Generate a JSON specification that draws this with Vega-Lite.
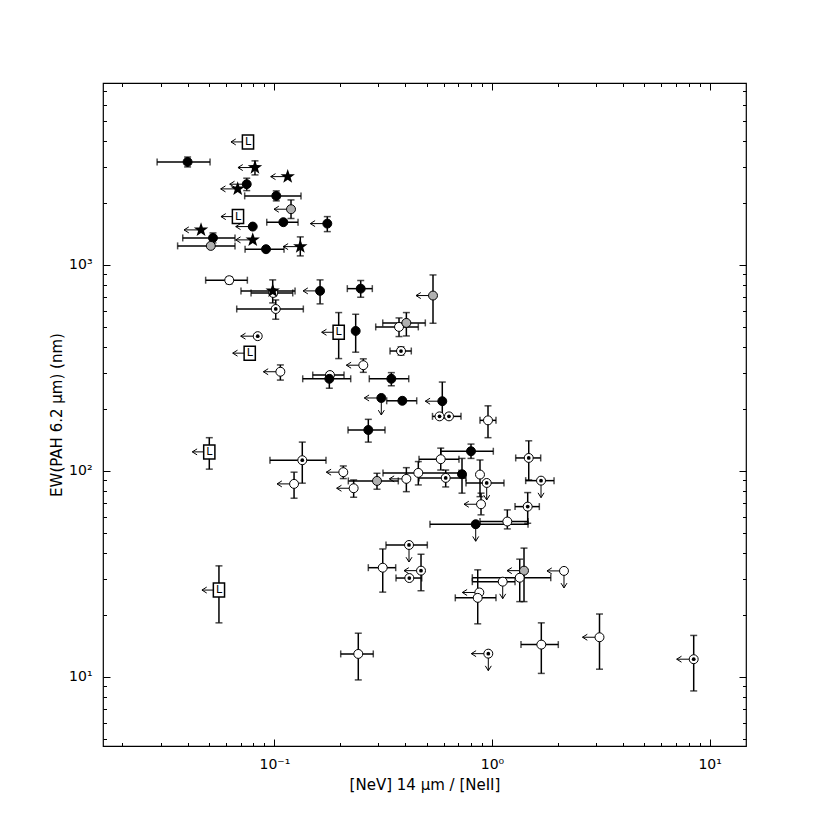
{
"$schema":"https://vega.github.io/schema/vega-lite/v6.json",
"width":643,"height":663,
"autosize":{"type":"none"},
"padding":{"left":103,"top":83,"right":84,"bottom":84},
"background":"white",
"config":{"view":{"stroke":"#000","strokeWidth":1.2},"font":"DejaVu Sans",
 "axis":{"domain":false,"grid":false,"tickColor":"#000","tickWidth":1,"labelColor":"#000","titleColor":"#000","labelFont":"DejaVu Sans","titleFont":"DejaVu Sans","labelFontSize":14,"titleFontSize":15,"titleFontWeight":"normal","labelFlush":false,"labelOverlap":false}},
"resolve":{"axis":{"x":"independent","y":"independent"}},
"data":{"values":[
{"t":"L","x":0.0756,"y":3954,"xl":1},
{"t":"filled","x":0.0399,"y":3162,"xlo":0.0289,"xhi":0.0506,"ylo":2990,"yhi":3340},
{"t":"star","x":0.0814,"y":2969,"ylo":2735,"yhi":3200,"xl":1},
{"t":"star","x":0.1151,"y":2683,"xl":1},
{"t":"filled","x":0.0746,"y":2465,"ylo":2295,"yhi":2636,"xl":1},
{"t":"star","x":0.0678,"y":2339,"xl":1},
{"t":"filled","x":0.102,"y":2163,"xlo":0.073,"xhi":0.1325,"ylo":2046,"yhi":2287},
{"t":"gray","x":0.1192,"y":1864,"ylo":1680,"yhi":2068,"xl":1},
{"t":"L","x":0.068,"y":1716,"xl":1},
{"t":"filled","x":0.1099,"y":1612,"xlo":0.0922,"xhi":0.1284},
{"t":"filled","x":0.175,"y":1587,"ylo":1451,"yhi":1716,"xl":1},
{"t":"star","x":0.046,"y":1479,"xl":1},
{"t":"filled","x":0.0795,"y":1535,"xl":1},
{"t":"filled","x":0.0522,"y":1352,"xlo":0.0379,"xhi":0.0659,"ylo":1279,"yhi":1430},
{"t":"star","x":0.0795,"y":1323,"xl":1},
{"t":"gray","x":0.051,"y":1237,"xlo":0.0359,"xhi":0.0659},
{"t":"filled","x":0.0915,"y":1192,"xlo":0.0733,"xhi":0.1107},
{"t":"star","x":0.1315,"y":1227,"ylo":1106,"yhi":1368,"xl":1},
{"t":"open","x":0.062,"y":843,"xlo":0.0483,"xhi":0.0751,"ylo":810,"yhi":875},
{"t":"open","x":0.0988,"y":731,"xlo":0.0781,"xhi":0.1214},
{"t":"star","x":0.0982,"y":748,"xlo":0.0702,"xhi":0.1244,"ylo":654,"yhi":846},
{"t":"filled","x":0.1621,"y":748,"ylo":647,"yhi":846,"xl":1},
{"t":"filled","x":0.2492,"y":767,"xlo":0.2163,"xhi":0.2818,"ylo":697,"yhi":839},
{"t":"dot","x":0.1014,"y":611,"xlo":0.0671,"xhi":0.1358,"ylo":545,"yhi":676},
{"t":"dot","x":0.0838,"y":451,"xl":1},
{"t":"L","x":0.1974,"y":471,"ylo":351,"yhi":587,"xl":1},
{"t":"filled","x":0.2363,"y":478,"ylo":377,"yhi":576},
{"t":"L","x":0.077,"y":373,"xl":1},
{"t":"open","x":0.1065,"y":303,"ylo":276,"yhi":327,"xl":1},
{"t":"open","x":0.18,"y":292,"xlo":0.15,"xhi":0.2089},
{"t":"filled","x":0.1788,"y":280,"xlo":0.1349,"xhi":0.2242,"ylo":252,"yhi":300},
{"t":"open","x":0.2562,"y":326,"ylo":301,"yhi":350,"xl":1},
{"t":"gray","x":0.5356,"y":710,"ylo":521,"yhi":894,"xl":1},
{"t":"open","x":0.3738,"y":500,"xlo":0.2921,"xhi":0.4585,"ylo":449,"yhi":553},
{"t":"gray","x":0.404,"y":523,"xlo":0.3146,"xhi":0.4938,"ylo":452,"yhi":587},
{"t":"dot","x":0.3818,"y":382,"xlo":0.3399,"xhi":0.4257,"ylo":365,"yhi":400},
{"t":"filled","x":0.3446,"y":280,"xlo":0.2729,"xhi":0.4143,"ylo":259,"yhi":300},
{"t":"filled","x":0.3099,"y":226,"xl":1,"yl":1},
{"t":"filled","x":0.3871,"y":219,"xlo":0.3281,"xhi":0.4508},
{"t":"filled","x":0.5909,"y":218,"ylo":180,"yhi":270,"xl":1},
{"t":"dot","x":0.5739,"y":184,"xlo":0.5327,"xhi":0.615},
{"t":"dot","x":0.6343,"y":184,"xlo":0.589,"xhi":0.7203},
{"t":"open","x":0.9585,"y":176,"xlo":0.8807,"xhi":1.043,"ylo":145,"yhi":207},
{"t":"filled","x":0.2701,"y":158,"xlo":0.2179,"xhi":0.3223,"ylo":138,"yhi":178},
{"t":"filled","x":0.8007,"y":124.6,"xlo":0.5831,"xhi":1.014,"ylo":115,"yhi":135},
{"t":"open","x":0.5812,"y":114,"xlo":0.4619,"xhi":0.705,"ylo":101,"yhi":129},
{"t":"dot","x":1.475,"y":115.6,"xlo":1.285,"xhi":1.674,"ylo":90.4,"yhi":140},
{"t":"open","x":0.4585,"y":97.8,"xlo":0.3155,"xhi":0.705,"ylo":85.5,"yhi":111},
{"t":"open","x":0.404,"y":91.5,"ylo":79.3,"yhi":103.7,"xl":1},
{"t":"dot","x":0.6126,"y":92.5,"xlo":0.4619,"xhi":0.7595,"ylo":83.6,"yhi":101},
{"t":"filled","x":0.728,"y":96.4,"ylo":78,"yhi":115},
{"t":"open","x":0.8807,"y":96,"ylo":75,"yhi":113},
{"t":"dot","x":0.9454,"y":87.4,"xlo":0.7595,"xhi":1.135,"yl":1},
{"t":"dot","x":1.68,"y":89.7,"xlo":1.428,"xhi":1.928,"yl":1},
{"t":"open","x":0.8903,"y":68.9,"ylo":61.2,"yhi":78,"xl":1},
{"t":"dot","x":1.459,"y":67.1,"xlo":1.276,"xhi":1.65,"ylo":55.7,"yhi":78.5},
{"t":"filled","x":0.8416,"y":55.1,"xlo":0.5187,"xhi":1.464,"yl":1},
{"t":"open","x":1.176,"y":56.8,"xlo":0.8807,"xhi":1.464,"ylo":52.3,"yhi":64.7},
{"t":"L","x":0.0502,"y":123.7,"ylo":102,"yhi":145,"xl":1},
{"t":"dot","x":0.1343,"y":112.7,"xlo":0.0954,"xhi":0.1726,"ylo":87.2,"yhi":138},
{"t":"open","x":0.1231,"y":86.5,"ylo":73.7,"yhi":98.6,"xl":1},
{"t":"open","x":0.2073,"y":98.6,"ylo":91.8,"yhi":105.7,"xl":1},
{"t":"open","x":0.2313,"y":82.4,"ylo":74.5,"yhi":90.4,"xl":1},
{"t":"gray","x":0.2961,"y":89.4,"xlo":0.2186,"xhi":0.371,"ylo":81.5,"yhi":97.4},
{"t":"dot","x":0.4155,"y":43.7,"xlo":0.3257,"xhi":0.5043,"yl":1},
{"t":"open","x":0.3146,"y":33.9,"xlo":0.2701,"xhi":0.3609,"ylo":25.8,"yhi":41.8},
{"t":"dot","x":0.4718,"y":32.8,"ylo":26.2,"yhi":39.4,"xl":1},
{"t":"dot","x":0.4169,"y":30.2,"xlo":0.3621,"xhi":0.4754},
{"t":"gray","x":1.403,"y":32.8,"ylo":23.2,"yhi":42.2,"xl":1},
{"t":"open","x":2.142,"y":32.7,"xl":1,"yl":1},
{"t":"open","x":1.12,"y":29.0,"xlo":0.812,"xhi":1.276,"yl":1},
{"t":"open","x":1.341,"y":30.3,"xlo":0.812,"xhi":1.862,"ylo":23.2,"yhi":37.3},
{"t":"open","x":0.8744,"y":25.7,"xl":1},
{"t":"open","x":0.8597,"y":24.2,"xlo":0.6781,"xhi":1.043,"ylo":18.1,"yhi":33.1},
{"t":"open","x":1.685,"y":14.35,"xlo":1.359,"xhi":2.017,"ylo":10.4,"yhi":18.3},
{"t":"dot","x":0.9616,"y":12.97,"xl":1,"yl":1},
{"t":"open","x":3.119,"y":15.58,"ylo":10.9,"yhi":20.2,"xl":1},
{"t":"dot","x":8.452,"y":12.19,"ylo":8.55,"yhi":15.9,"xl":1},
{"t":"L","x":0.0556,"y":26.4,"ylo":18.3,"yhi":34.6,"xl":1},
{"t":"open","x":0.2429,"y":12.93,"xlo":0.2017,"xhi":0.2847,"ylo":9.67,"yhi":16.3}
]},
"layer":[
{"transform":[{"filter":"isValid(datum.xlo)"}],
 "mark":{"type":"rule","color":"#000","strokeWidth":1.5},
 "encoding":{
  "x":{"field":"xlo","type":"quantitative","scale":{"type":"log","domain":[0.0163,14.7],"nice":false},
   "axis":{"orient":"bottom","values":[0.1,1,10],"labelExpr":"datum.value < 0.5 ? '10⁻¹' : datum.value < 5 ? '10⁰' : '10¹'","tickSize":-7,"labelPadding":18,"title":"[NeV] 14 μm / [NeII]","titlePadding":6}},
  "x2":{"field":"xhi"},
  "y":{"field":"y","type":"quantitative","scale":{"type":"log","domain":[4.62,7640],"nice":false},
   "axis":{"orient":"left","values":[10,100,1000],"labelExpr":"datum.value < 50 ? '10¹' : datum.value < 500 ? '10²' : '10³'","tickSize":-7,"labelPadding":18,"title":"EW(PAH 6.2 μm) (nm)","titlePadding":4}}}},
{"transform":[{"filter":"isValid(datum.ylo)"}],
 "mark":{"type":"rule","color":"#000","strokeWidth":1.5},
 "encoding":{
  "x":{"field":"x","type":"quantitative","scale":{"type":"log","domain":[0.0163,14.7],"nice":false},
   "axis":{"orient":"top","values":[0.1,1,10],"tickSize":-7,"labels":false,"title":null}},
  "y":{"field":"ylo","type":"quantitative","scale":{"type":"log","domain":[4.62,7640],"nice":false},
   "axis":{"orient":"right","values":[10,100,1000],"tickSize":-7,"labels":false,"title":null}},
  "y2":{"field":"yhi"}}},
{"transform":[{"filter":"isValid(datum.xlo)"}],
 "mark":{"type":"tick","orient":"vertical","color":"#000","size":7,"thickness":1.5},
 "encoding":{
  "x":{"field":"xlo","type":"quantitative","scale":{"type":"log","domain":[0.0163,14.7],"nice":false},
   "axis":{"orient":"bottom","values":[0.02,0.03,0.04,0.05,0.06,0.07,0.08,0.09,0.2,0.3,0.4,0.5,0.6,0.7,0.8,0.9,2,3,4,5,6,7,8,9],"tickSize":-3.5,"labels":false,"title":null}},
  "y":{"field":"y","type":"quantitative","scale":{"type":"log","domain":[4.62,7640],"nice":false},
   "axis":{"orient":"left","values":[5,6,7,8,9,20,30,40,50,60,70,80,90,200,300,400,500,600,700,800,900,2000,3000,4000,5000,6000,7000],"tickSize":-3.5,"labels":false,"title":null}}}},
{"transform":[{"filter":"isValid(datum.xlo)"}],
 "mark":{"type":"tick","orient":"vertical","color":"#000","size":7,"thickness":1.5},
 "encoding":{
  "x":{"field":"xhi","type":"quantitative","scale":{"type":"log","domain":[0.0163,14.7],"nice":false},
   "axis":{"orient":"top","values":[0.02,0.03,0.04,0.05,0.06,0.07,0.08,0.09,0.2,0.3,0.4,0.5,0.6,0.7,0.8,0.9,2,3,4,5,6,7,8,9],"tickSize":-3.5,"labels":false,"title":null}},
  "y":{"field":"y","type":"quantitative","scale":{"type":"log","domain":[4.62,7640],"nice":false},
   "axis":{"orient":"right","values":[5,6,7,8,9,20,30,40,50,60,70,80,90,200,300,400,500,600,700,800,900,2000,3000,4000,5000,6000,7000],"tickSize":-3.5,"labels":false,"title":null}}}},
{"transform":[{"filter":"isValid(datum.ylo)"}],
 "mark":{"type":"tick","orient":"horizontal","color":"#000","size":7,"thickness":1.5},
 "encoding":{
  "x":{"field":"x","type":"quantitative","scale":{"type":"log","domain":[0.0163,14.7],"nice":false},"axis":null},
  "y":{"field":"ylo","type":"quantitative","scale":{"type":"log","domain":[4.62,7640],"nice":false},"axis":null}}},
{"transform":[{"filter":"isValid(datum.ylo)"}],
 "mark":{"type":"tick","orient":"horizontal","color":"#000","size":7,"thickness":1.5},
 "encoding":{
  "x":{"field":"x","type":"quantitative","scale":{"type":"log","domain":[0.0163,14.7],"nice":false},"axis":null},
  "y":{"field":"yhi","type":"quantitative","scale":{"type":"log","domain":[4.62,7640],"nice":false},"axis":null}}},
{"transform":[{"filter":"datum.xl == 1"}],
 "mark":{"type":"rule","color":"#000","strokeWidth":1,"x2Offset":-17},
 "encoding":{
  "x":{"field":"x","type":"quantitative","scale":{"type":"log","domain":[0.0163,14.7],"nice":false},"axis":null},
  "x2":{"field":"x"},
  "y":{"field":"y","type":"quantitative","scale":{"type":"log","domain":[4.62,7640],"nice":false},"axis":null}}},
{"transform":[{"filter":"datum.xl == 1"}],
 "mark":{"type":"point","shape":"M1.6,-1L0,0L1.6,1","size":36,"filled":false,"stroke":"#000","strokeWidth":1,"xOffset":-17,"opacity":1},
 "encoding":{
  "x":{"field":"x","type":"quantitative","scale":{"type":"log","domain":[0.0163,14.7],"nice":false},"axis":null},
  "y":{"field":"y","type":"quantitative","scale":{"type":"log","domain":[4.62,7640],"nice":false},"axis":null}}},
{"transform":[{"filter":"datum.yl == 1"}],
 "mark":{"type":"rule","color":"#000","strokeWidth":1,"y2Offset":17},
 "encoding":{
  "x":{"field":"x","type":"quantitative","scale":{"type":"log","domain":[0.0163,14.7],"nice":false},"axis":null},
  "y":{"field":"y","type":"quantitative","scale":{"type":"log","domain":[4.62,7640],"nice":false},"axis":null},
  "y2":{"field":"y"}}},
{"transform":[{"filter":"datum.yl == 1"}],
 "mark":{"type":"point","shape":"M-1,-1.6L0,0L1,-1.6","size":36,"filled":false,"stroke":"#000","strokeWidth":1,"yOffset":17,"opacity":1},
 "encoding":{
  "x":{"field":"x","type":"quantitative","scale":{"type":"log","domain":[0.0163,14.7],"nice":false},"axis":null},
  "y":{"field":"y","type":"quantitative","scale":{"type":"log","domain":[4.62,7640],"nice":false},"axis":null}}},
{"transform":[{"filter":"datum.t == 'filled' || datum.t == 'open' || datum.t == 'gray' || datum.t == 'dot'"}],
 "mark":{"type":"point","shape":"circle","filled":true,"size":80,"stroke":"#000","strokeWidth":1,"opacity":1},
 "encoding":{
  "x":{"field":"x","type":"quantitative","scale":{"type":"log","domain":[0.0163,14.7],"nice":false},"axis":null},
  "y":{"field":"y","type":"quantitative","scale":{"type":"log","domain":[4.62,7640],"nice":false},"axis":null},
  "fill":{"field":"t","type":"nominal","scale":{"domain":["filled","open","gray","dot"],"range":["#000000","#ffffff","#b0b0b0","#ffffff"]},"legend":null}}},
{"transform":[{"filter":"datum.t == 'dot'"}],
 "mark":{"type":"point","shape":"circle","filled":true,"size":14,"color":"#000","opacity":1},
 "encoding":{
  "x":{"field":"x","type":"quantitative","scale":{"type":"log","domain":[0.0163,14.7],"nice":false},"axis":null},
  "y":{"field":"y","type":"quantitative","scale":{"type":"log","domain":[4.62,7640],"nice":false},"axis":null}}},
{"transform":[{"filter":"datum.t == 'star'"}],
 "mark":{"type":"point","shape":"M0,-1L0.2351,-0.3236L0.9511,-0.309L0.3804,0.1236L0.5878,0.809L0,0.4L-0.5878,0.809L-0.3804,0.1236L-0.9511,-0.309L-0.2351,-0.3236Z","filled":true,"size":230,"color":"#000","opacity":1},
 "encoding":{
  "x":{"field":"x","type":"quantitative","scale":{"type":"log","domain":[0.0163,14.7],"nice":false},"axis":null},
  "y":{"field":"y","type":"quantitative","scale":{"type":"log","domain":[4.62,7640],"nice":false},"axis":null}}},
{"transform":[{"filter":"datum.t == 'L'"}],
 "mark":{"type":"point","shape":"M-0.8,-1L0.8,-1L0.8,1L-0.8,1Z","size":196,"filled":true,"fill":"#ffffff","stroke":"#000","strokeWidth":1.5,"opacity":1},
 "encoding":{
  "x":{"field":"x","type":"quantitative","scale":{"type":"log","domain":[0.0163,14.7],"nice":false},"axis":null},
  "y":{"field":"y","type":"quantitative","scale":{"type":"log","domain":[4.62,7640],"nice":false},"axis":null}}},
{"transform":[{"filter":"datum.t == 'L'"}],
 "mark":{"type":"text","text":"L","fontSize":11,"font":"DejaVu Sans","color":"#000","align":"center","baseline":"middle"},
 "encoding":{
  "x":{"field":"x","type":"quantitative","scale":{"type":"log","domain":[0.0163,14.7],"nice":false},"axis":null},
  "y":{"field":"y","type":"quantitative","scale":{"type":"log","domain":[4.62,7640],"nice":false},"axis":null}}}
]
}
